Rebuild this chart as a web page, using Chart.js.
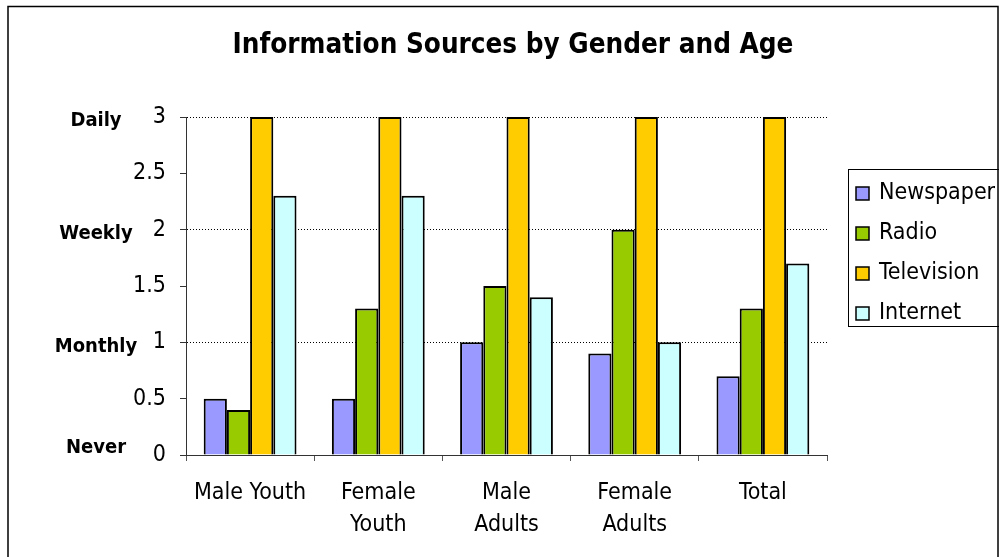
<!DOCTYPE html>
<html>
<head>
<meta charset="utf-8">
<script src="https://cdn.jsdelivr.net/npm/chart.js@4.4.1/dist/chart.umd.min.js"></script>
<style>
  html, body { margin: 0; padding: 0; background: #fff; }
</style>
</head>
<body>
<canvas id="myChart" width="999" height="557"></canvas>
<script>
const chartTitle = 'Information Sources by Gender and Age'
const categories = ['Male Youth', ['Female', 'Youth'], ['Male', 'Adults'], ['Female', 'Adults'], 'Total']
const newspaper = [0.5, 0.5, 1, 0.9, 0.7]
const radio = [0.4, 1.3, 1.5, 2, 1.3]
const television = [3, 3, 3, 3, 3]
const internet = [2.3, 2.3, 1.4, 1, 1.7]
const yTicks = [0, 0.5, 1, 1.5, 2, 2.5, 3]
const frequencyLabels = ['Never', 'Monthly', 'Weekly', 'Daily']
const frequencyValues = [0, 1, 2, 3]

const font = '"DejaVu Sans Condensed", "DejaVu Sans", sans-serif'

const series = [
  { label: 'Newspaper', data: newspaper, color: '#9999ff' },
  { label: 'Radio', data: radio, color: '#99cc00' },
  { label: 'Television', data: television, color: '#ffcc00' },
  { label: 'Internet', data: internet, color: '#ccffff' }
]

// frame, title, legend box and the frequency captions next to the y axis
const decorations = {
  id: 'decorations',
  beforeDraw(chart) {
    const { ctx } = chart
    ctx.save()
    ctx.fillStyle = '#fff'
    ctx.fillRect(0, 0, chart.width, chart.height)
    ctx.restore()
  },
  afterDraw(chart) {
    const { ctx, chartArea, scales } = chart
    ctx.save()

    ctx.strokeStyle = '#000'
    ctx.lineWidth = 1.5
    ctx.strokeRect(8, 6.5, 990, 600)

    ctx.fillStyle = '#000'
    ctx.font = 'bold 27.6px ' + font
    ctx.textAlign = 'center'
    ctx.textBaseline = 'middle'
    ctx.fillText(chartTitle, 513, 46)

    ctx.font = 'bold 20px ' + font
    frequencyLabels.forEach((text, i) => {
      const y = Math.min(scales.y.getPixelForValue(frequencyValues[i]) + 4, chartArea.bottom - 7)
      ctx.fillText(text, 96, y)
    })

    // legend
    ctx.lineWidth = 1
    ctx.strokeRect(848.5, 169.5, 160, 157)
    ctx.font = '23px ' + font
    ctx.textAlign = 'left'
    chart.data.datasets.forEach((ds, i) => {
      const y = 193 + i * 40
      ctx.fillStyle = ds.backgroundColor
      ctx.fillRect(856, y - 6, 13, 13)
      ctx.strokeStyle = '#000'
      ctx.lineWidth = 1.5
      ctx.strokeRect(856, y - 6, 13, 13)
      ctx.fillStyle = '#000'
      ctx.fillText(ds.label, 879, y)
    })

    ctx.restore()
  }
}

const canvas = document.getElementById('myChart')

new Chart(canvas, {
  type: 'bar',
  data: {
    labels: categories,
    datasets: series.map(s => ({
      label: s.label,
      data: s.data,
      backgroundColor: s.color,
      borderColor: '#000',
      borderWidth: 2,
      categoryPercentage: 0.724,
      barPercentage: 1
    }))
  },
  options: {
    responsive: false,
    animation: false,
    devicePixelRatio: 1,
    layout: {
      padding: { left: 0, right: 172, top: 117, bottom: 0 }
    },
    plugins: {
      legend: { display: false },
      title: { display: false },
      tooltip: { enabled: false }
    },
    scales: {
      x: {
        afterFit: s => { s.height = 102 },
        grid: {
          offset: true,
          drawOnChartArea: false,
          tickLength: 6,
          color: '#555'
        },
        border: { color: '#333', width: 1 },
        ticks: {
          color: '#000',
          font: { family: font, size: 23, lineHeight: 1.39 },
          padding: 16,
          maxRotation: 0,
          autoSkip: false
        }
      },
      y: {
        min: yTicks[0],
        max: yTicks[yTicks.length - 1],
        afterFit: s => { s.width = 186 },
        afterBuildTicks: s => { s.ticks = yTicks.map(v => ({ value: v })) },
        grid: {
          color: c => (c.tick && Number.isInteger(c.tick.value) && c.tick.value > 0) ? '#000' : 'rgba(0,0,0,0)',
          tickColor: '#333',
          tickLength: 6,
          lineWidth: 1
        },
        border: { color: '#333', width: 1, dash: [1, 2] },
        ticks: {
          color: '#000',
          font: { family: font, size: 23 },
          padding: 14,
          callback: v => String(v)
        }
      }
    }
  },
  plugins: [decorations]
})
</script>
</body>
</html>
